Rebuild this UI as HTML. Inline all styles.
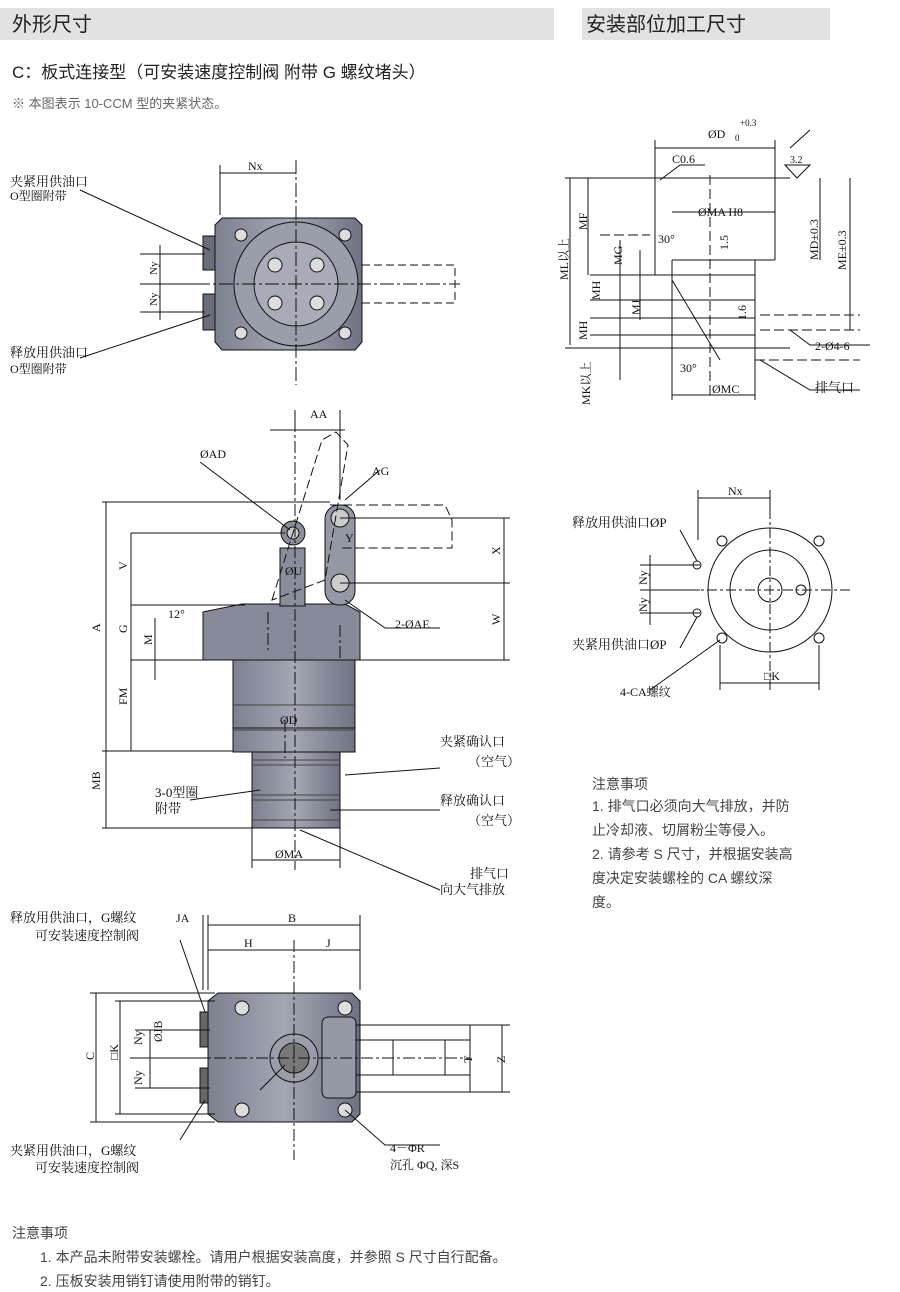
<!DOCTYPE html>
<html><head><meta charset="utf-8"><style>
body{margin:0;background:#fff;width:900px;height:1292px;overflow:hidden;font-family:"Liberation Sans","Noto Sans CJK SC",sans-serif}
svg{position:absolute;left:0;top:0}
</style></head><body>
<svg width="900" height="1292" viewBox="0 0 900 1292" xmlns="http://www.w3.org/2000/svg" font-family="Liberation Serif,Noto Serif CJK SC,serif">
<defs>
<linearGradient id="g" x1="0" x2="1"><stop offset="0" stop-color="#7d808f"/><stop offset="0.5" stop-color="#a3a6b3"/><stop offset="1" stop-color="#6f7282"/></linearGradient>
</defs>
<rect x="0" y="8" width="554" height="32" fill="#e2e2e2"/>
<rect x="582" y="8" width="248" height="32" fill="#e2e2e2"/>
<g font-family="Liberation Sans,Noto Sans CJK SC,sans-serif" fill="#222">
<text x="12" y="31" font-size="20">外形尺寸</text>
<text x="586" y="31" font-size="20">安装部位加工尺寸</text>
<text x="12" y="78" font-size="17">C：板式连接型（可安装速度控制阀  附带 G 螺纹堵头）</text>
<text x="12" y="108" font-size="13" fill="#666">※ 本图表示 10-CCM 型的夹紧状态。</text>
<text x="592" y="789" font-size="14" fill="#444">注意事项</text>
<text x="592" y="811" font-size="14" fill="#444">1. 排气口必须向大气排放，并防</text>
<text x="592" y="835" font-size="14" fill="#444">止冷却液、切屑粉尘等侵入。</text>
<text x="592" y="859" font-size="14" fill="#444">2. 请参考 S 尺寸，并根据安装高</text>
<text x="592" y="883" font-size="14" fill="#444">度决定安装螺栓的 CA 螺纹深</text>
<text x="592" y="907" font-size="14" fill="#444">度。</text>
<text x="12" y="1238" font-size="14" fill="#444">注意事项</text>
<text x="40" y="1262" font-size="14" fill="#444">1. 本产品未附带安装螺栓。请用户根据安装高度，并参照 S 尺寸自行配备。</text>
<text x="40" y="1286" font-size="14" fill="#444">2. 压板安装用销钉请使用附带的销钉。</text>
</g>

<g stroke="#111" stroke-width="1" fill="none">
<!-- TOP VIEW -->
<path d="M222 218 H355 L362 225 V342 L355 350 H222 L215 342 V225 Z" fill="url(#g)"/>
<circle cx="296" cy="284" r="62" fill="#9a9daa"/>
<circle cx="296" cy="284" r="42" fill="#a9acb8"/>
<circle cx="275" cy="265" r="7" fill="#ddd"/><circle cx="317" cy="265" r="7" fill="#ddd"/>
<circle cx="275" cy="303" r="7" fill="#ddd"/><circle cx="317" cy="303" r="7" fill="#ddd"/>
<circle cx="241" cy="235" r="6" fill="#ddd"/><circle cx="345" cy="235" r="6" fill="#ddd"/>
<circle cx="241" cy="333" r="6" fill="#ddd"/><circle cx="345" cy="333" r="6" fill="#ddd"/>
<rect x="203" y="236" width="12" height="34" fill="#6a6d7a"/>
<rect x="203" y="294" width="12" height="36" fill="#6a6d7a"/>
<path d="M296 160 V385 M150 284 H460" stroke-dasharray="14 3 3 3"/>
<path d="M362 265 H455 V303 H362" stroke-dasharray="8 4"/>
<path d="M220 165 V215 M220 173 H296"/>
<text x="248" y="170" font-size="12" fill="#111" stroke="none">Nx</text>
<path d="M140 254 H205 M140 284 H205 M140 312 H205 M160 245 V320"/>
<text x="157" y="275" font-size="11" fill="#111" stroke="none" transform="rotate(-90 157 275)">Ny</text>
<text x="157" y="306" font-size="11" fill="#111" stroke="none" transform="rotate(-90 157 306)">Ny</text>
<path d="M80 190 L210 250 M80 358 L210 315"/>

<!-- MIDDLE VIEW -->
<path d="M203 612 L242 604 H345 L360 612 V660 H203 Z" fill="#878a98"/>
<rect x="233" y="660" width="122" height="92" fill="url(#g)"/>
<rect x="252" y="752" width="88" height="76" fill="url(#g)"/>
<path d="M252 760 H340 M252 765 H340 M252 795 H340 M252 800 H340 M252 820 H340 M233 705 H355 M233 730 H355" stroke="#444"/>
<rect x="280" y="548" width="25" height="58" fill="#8a8d9a"/>
<circle cx="293" cy="533" r="12" fill="#8a8d9a"/><circle cx="293" cy="533" r="6" fill="#ccc"/>
<rect x="325" y="505" width="30" height="100" rx="14" fill="#9598a5"/>
<circle cx="340" cy="518" r="9" fill="#ccc"/><circle cx="340" cy="583" r="9" fill="#ccc"/>
<path d="M295 420 V870 M285 720 V758 M268 612 V650 M340 625 V660" stroke-dasharray="12 3 3 3"/>
<path d="M272 600 L322 440 L336 432 L348 445 L325 580 Z M330 505 H445 L452 520 V548 H340" stroke-dasharray="9 4"/>
<path d="M102 502 H330 M102 751 H233 M102 828 H252 M106 502 V828 M131 533 H285 M131 605 H245 M131 660 H233 M131 751 H233 M131 533 V751 M155 618 V680 M340 518 H510 M340 583 H510 M355 660 H510 M504 518 V660 M270 430 H345 M295 410 V430 M340 410 V500"/>
<path d="M252 860 H340 M252 828 V868 M340 828 V868 M233 728 H355"/>
<path d="M200 462 L290 530 M345 600 L385 628 H440 M345 500 L380 470 M345 775 L440 768 M330 810 L440 810 M190 800 L260 790 M300 830 L440 890"/>
<g fill="#111" stroke="none" font-size="12">
<text x="310" y="418">AA</text><text x="200" y="458">ØAD</text><text x="372" y="475">AG</text>
<text x="345" y="542">Y</text><text x="285" y="575">ØU</text><text x="395" y="628">2-ØAE</text>
<text x="168" y="618">12°</text><text x="280" y="724">ØD</text><text x="275" y="858">ØMA</text>
<text x="100" y="632" transform="rotate(-90 100 632)">A</text>
<text x="127" y="570" transform="rotate(-90 127 570)">V</text>
<text x="127" y="633" transform="rotate(-90 127 633)">G</text>
<text x="127" y="705" transform="rotate(-90 127 705)">FM</text>
<text x="100" y="790" transform="rotate(-90 100 790)">MB</text>
<text x="152" y="645" transform="rotate(-90 152 645)">M</text>
<text x="500" y="555" transform="rotate(-90 500 555)">X</text>
<text x="500" y="625" transform="rotate(-90 500 625)">W</text>
<text x="440" y="746" font-size="13">夹紧确认口</text><text x="468" y="766" font-size="13">（空气）</text>
<text x="440" y="805" font-size="13">释放确认口</text><text x="468" y="825" font-size="13">（空气）</text>
<text x="155" y="797" font-size="13">3-0型圈</text><text x="155" y="813" font-size="13">附带</text>
<text x="470" y="878" font-size="13">排气口</text><text x="440" y="894" font-size="13">向大气排放</text>
<text x="10" y="186" font-size="13">夹紧用供油口</text><text x="10" y="200" font-size="12">O型圈附带</text>
<text x="10" y="357" font-size="13">释放用供油口</text><text x="10" y="373" font-size="12">O型圈附带</text>
<text x="10" y="922" font-size="13">释放用供油口，G螺纹</text><text x="35" y="940" font-size="13">可安装速度控制阀</text>
<text x="10" y="1155" font-size="13">夹紧用供油口，G螺纹</text><text x="35" y="1172" font-size="13">可安装速度控制阀</text>
<text x="176" y="922">JA</text><text x="288" y="922">B</text><text x="244" y="947">H</text><text x="326" y="947">J</text>
<text x="245" y="1095">ØL</text><text x="390" y="1152">4－ΦR</text><text x="390" y="1169">沉孔 ΦQ, 深S</text>
<text x="94" y="1060" transform="rotate(-90 94 1060)">C</text>
<text x="118" y="1060" transform="rotate(-90 118 1060)">□K</text>
<text x="142" y="1045" transform="rotate(-90 142 1045)">Ny</text>
<text x="142" y="1085" transform="rotate(-90 142 1085)">Ny</text>
<text x="162" y="1042" transform="rotate(-90 162 1042)">ØJB</text>
<text x="472" y="1063" transform="rotate(-90 472 1063)">T</text>
<text x="505" y="1063" transform="rotate(-90 505 1063)">Z</text>
</g>

<!-- BOTTOM VIEW -->
<path d="M218 993 H352 L360 1001 V1114 L352 1122 H218 L208 1114 V1001 Z" fill="url(#g)"/>
<rect x="200" y="1012" width="8" height="35" fill="#666"/><rect x="200" y="1068" width="8" height="35" fill="#666"/>
<circle cx="294" cy="1058" r="24" fill="#9a9daa"/><circle cx="294" cy="1058" r="15" fill="#777"/>
<rect x="322" y="1017" width="34" height="81" rx="6" fill="#9598a5"/>
<circle cx="242" cy="1008" r="7" fill="#ddd"/><circle cx="345" cy="1008" r="7" fill="#ddd"/>
<circle cx="242" cy="1110" r="7" fill="#ddd"/><circle cx="345" cy="1110" r="7" fill="#ddd"/>
<path d="M294 940 V1160 M130 1058 H470" stroke-dasharray="12 3 3 3"/>
<path d="M356 1025 H510 M356 1092 H510 M356 1040 H470 M356 1075 H470 M470 1025 V1092 M502 1025 V1092 M393 1040 V1075 M445 1040 V1075"/>
<path d="M208 925 H360 M208 950 H360 M203 915 V990 M208 915 V990 M360 915 V990 M90 993 H215 M90 1122 H215 M96 993 V1122 M115 1001 H215 M115 1114 H215 M120 1001 V1114 M135 1030 H210 M135 1058 H210 M135 1088 H210 M150 1030 V1088"/>
<path d="M180 940 L205 1012 M180 1140 L205 1100 M260 1090 L285 1065 M345 1110 L385 1145 H440"/>

<!-- RIGHT INSTALL SECTION -->
<path d="M565 178 H790 M565 348 H790 M655 178 V260 M775 178 V260 M655 260 V275 M672 260 H775 M672 260 V400 M755 260 V400 M672 275 H755 M672 300 H755 M672 318 H755 M672 335 H755 M655 275 H672 M590 275 H672 M590 300 H672 M590 318 H672 M590 335 H672"/>
<path d="M655 148 H775 M655 140 V178 M775 140 V178 M672 212 H775 M570 178 V345 M588 178 V275 M620 240 V380 M640 250 V320 M820 178 V260 M850 178 V330 M672 395 H755"/>
<path d="M710 175 V395 M600 235 H650 M760 315 H860 M760 330 H860 M755 360 H860" stroke-dasharray="10 4"/>
<path d="M672 280 L720 360 M790 148 L810 130 M785 165 H810 L797 178 Z M660 180 L680 165 H705 M790 330 L810 345 H870 M760 360 L810 390 H860"/>
<g fill="#111" stroke="none" font-size="12">
<text x="708" y="138">ØD</text><text x="740" y="126" font-size="9">+0.3</text><text x="735" y="141" font-size="9">0</text>
<text x="672" y="163">C0.6</text><text x="790" y="163" font-size="10">3.2</text>
<text x="698" y="216">ØMA H8</text><text x="658" y="243">30°</text><text x="680" y="372">30°</text>
<text x="712" y="393">ØMC</text><text x="815" y="350">2-Ø4-6</text><text x="815" y="392" font-size="13">排气口</text>
<text x="568" y="280" transform="rotate(-90 568 280)">ML以上</text>
<text x="587" y="230" transform="rotate(-90 587 230)">MF</text>
<text x="622" y="265" transform="rotate(-90 622 265)">MG</text>
<text x="600" y="300" transform="rotate(-90 600 300)">MH</text>
<text x="587" y="340" transform="rotate(-90 587 340)">MH</text>
<text x="640" y="315" transform="rotate(-90 640 315)">MJ</text>
<text x="590" y="405" transform="rotate(-90 590 405)">MK以上</text>
<text x="818" y="260" transform="rotate(-90 818 260)">MD±0.3</text>
<text x="846" y="270" transform="rotate(-90 846 270)">ME±0.3</text>
<text x="728" y="250" transform="rotate(-90 728 250)">1.5</text>
<text x="746" y="320" transform="rotate(-90 746 320)">1.6</text>
</g>

<!-- RIGHT CIRCLE VIEW -->
<circle cx="770" cy="590" r="62"/><circle cx="770" cy="590" r="40"/><circle cx="770" cy="590" r="12"/>
<circle cx="801" cy="590" r="5"/>
<circle cx="722" cy="541" r="5"/><circle cx="819" cy="541" r="5"/><circle cx="722" cy="638" r="5"/><circle cx="819" cy="638" r="5"/>
<circle cx="697" cy="565" r="4"/><circle cx="697" cy="613" r="4"/>
<path d="M770 490 V690 M650 590 H850" stroke-dasharray="10 3 3 3"/>
<path d="M698 498 H770 M698 490 V540 M770 490 V510 M720 683 H819 M720 645 V690 M819 645 V690 M640 565 H700 M640 590 H700 M640 613 H700 M650 555 V625"/>
<path d="M680 530 L697 561 M680 648 L697 617 M650 690 L720 640"/>
<g fill="#111" stroke="none" font-size="12">
<text x="728" y="495">Nx</text><text x="764" y="680">□K</text>
<text x="572" y="527" font-size="13">释放用供油口ØP</text><text x="572" y="649" font-size="13">夹紧用供油口ØP</text>
<text x="620" y="696">4-CA螺纹</text>
<text x="647" y="585" transform="rotate(-90 647 585)">Ny</text>
<text x="647" y="612" transform="rotate(-90 647 612)">Ny</text>
</g>
</g>
</svg>
</body></html>
